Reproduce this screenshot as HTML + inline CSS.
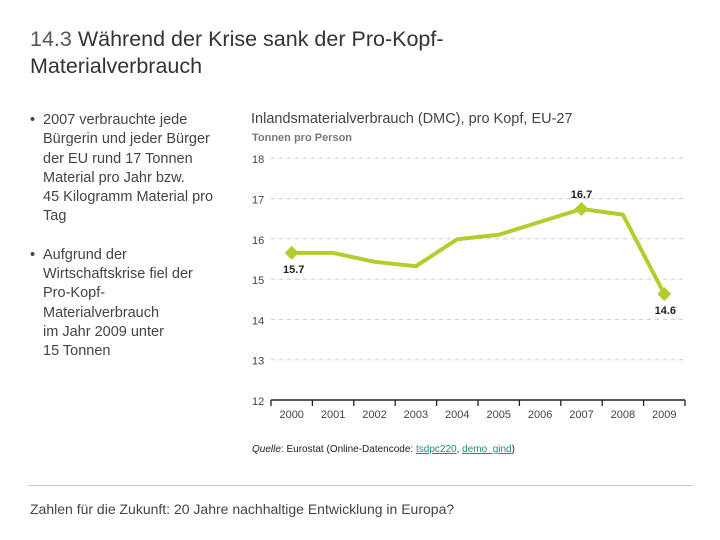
<!DOCTYPE html>
<html><head><meta charset="utf-8"><style>
body{margin:0;width:720px;height:540px;background:#fff;font-family:"Liberation Sans",sans-serif;position:relative;overflow:hidden}
.abs{position:absolute}
.b{position:relative;padding-left:13px}
.b .dot{position:absolute;left:0;top:0}
</style></head><body>
<div class="abs" style="left:30px;top:26px;font-size:21.5px;line-height:27px;color:#333;width:500px"><span style="color:#555">14.3 </span><span style="color:#333">Während der Krise sank der Pro-Kopf-Materialverbrauch</span></div>
<div class="abs" style="left:30px;top:111px;font-size:14.5px;line-height:19.3px;color:#444;width:230px">
<div class="b"><span class="dot">•</span>2007 verbrauchte jede<br>Bürgerin und jeder Bürger<br>der EU rund 17 Tonnen<br>Material pro Jahr bzw.<br>45 Kilogramm Material pro<br>Tag</div>
<div class="b" style="margin-top:19px"><span class="dot">•</span>Aufgrund der<br>Wirtschaftskrise fiel der<br>Pro-Kopf-<br>Materialverbrauch<br>im Jahr 2009 unter<br>15 Tonnen</div>
</div>
<div class="abs" style="left:251px;top:111px;font-size:14.5px;color:#444">Inlandsmaterialverbrauch (DMC), pro Kopf, EU-27</div>
<div class="abs" style="left:252px;top:132px;font-size:11px;font-weight:bold;color:#777">Tonnen pro Person</div>
<svg class="abs" style="left:0;top:0" width="720" height="540" id="chart"></svg>
<div class="abs" style="left:252px;top:444px;font-size:10px;color:#222"><i>Quelle</i>: Eurostat (Online-Datencode: <span style="color:#1a8a8a;text-decoration:underline">tsdpc220</span>, <span style="color:#1a8a8a;text-decoration:underline">demo_gind</span>)</div>
<div class="abs" style="left:28px;top:485px;width:665px;height:1px;background:#ccc"></div>
<div class="abs" style="left:30px;top:501px;font-size:14px;color:#444">Zahlen für die Zukunft: 20 Jahre nachhaltige Entwicklung in Europa?</div>
<script>
const years=["2000","2001","2002","2003","2004","2005","2006","2007","2008","2009"];
const values=[15.65,15.65,15.43,15.32,15.99,16.1,16.42,16.74,16.6,14.63];
const yTicks=[12,13,14,15,16,17,18];
const markers=[0,7,9];
const markerLabels=["15.7","16.7","14.6"];
const NS="http://www.w3.org/2000/svg";
const svg=document.getElementById('chart');
const X=i=>291.7+i*41.4;
const Y=v=>400-(v-12)*40.3;
function mk(t,a){const e=document.createElementNS(NS,t);for(const k in a)e.setAttribute(k,a[k]);svg.appendChild(e);return e;}
yTicks.forEach(t=>{
  if(t>12){const g=mk('line',{x1:271,x2:685,y1:Y(t),y2:Y(t),stroke:'#ccc','stroke-dasharray':'4,4','stroke-width':1});
  
  }
  const l=mk('text',{x:252,y:Y(t)+5,'font-size':11,fill:'#444','font-family':'Liberation Sans'});
  l.textContent=t;
  
  
});
const ax=mk('line',{x1:271,x2:685,y1:400,y2:400,stroke:'#222','stroke-width':1.5});


for(let i=0;i<=years.length;i++){const tk=mk('line',{x1:271+i*41.4,x2:271+i*41.4,y1:400,y2:406,stroke:'#222','stroke-width':1.3});

}
years.forEach((y,i)=>{const t=mk('text',{x:X(i),y:418,'font-size':11,fill:'#444','text-anchor':'middle','font-family':'Liberation Sans'});
t.textContent=y;

});
const pl=mk('polyline',{points:values.map((v,i)=>X(i)+','+Y(v)).join(' '),fill:'none',stroke:'#b5cc2e','stroke-width':4,'stroke-linejoin':'round'});


markers.forEach((i,k)=>{
  const cx=X(i),cy=Y(values[i]);
  const d=mk('polygon',{points:`${cx},${cy-7} ${cx+7},${cy} ${cx},${cy+7} ${cx-7},${cy}`,fill:'#b5cc2e'});
  
  
  const above=k===1;
  const t=mk('text',{x:cx+(k===0?2:(k===2?1:0)),y:above?cy-11:cy+20,'font-size':11,'font-weight':'bold',fill:'#222','text-anchor':'middle','font-family':'Liberation Sans'});
  t.textContent=markerLabels[k];
  
  
});
</script>
</body></html>
